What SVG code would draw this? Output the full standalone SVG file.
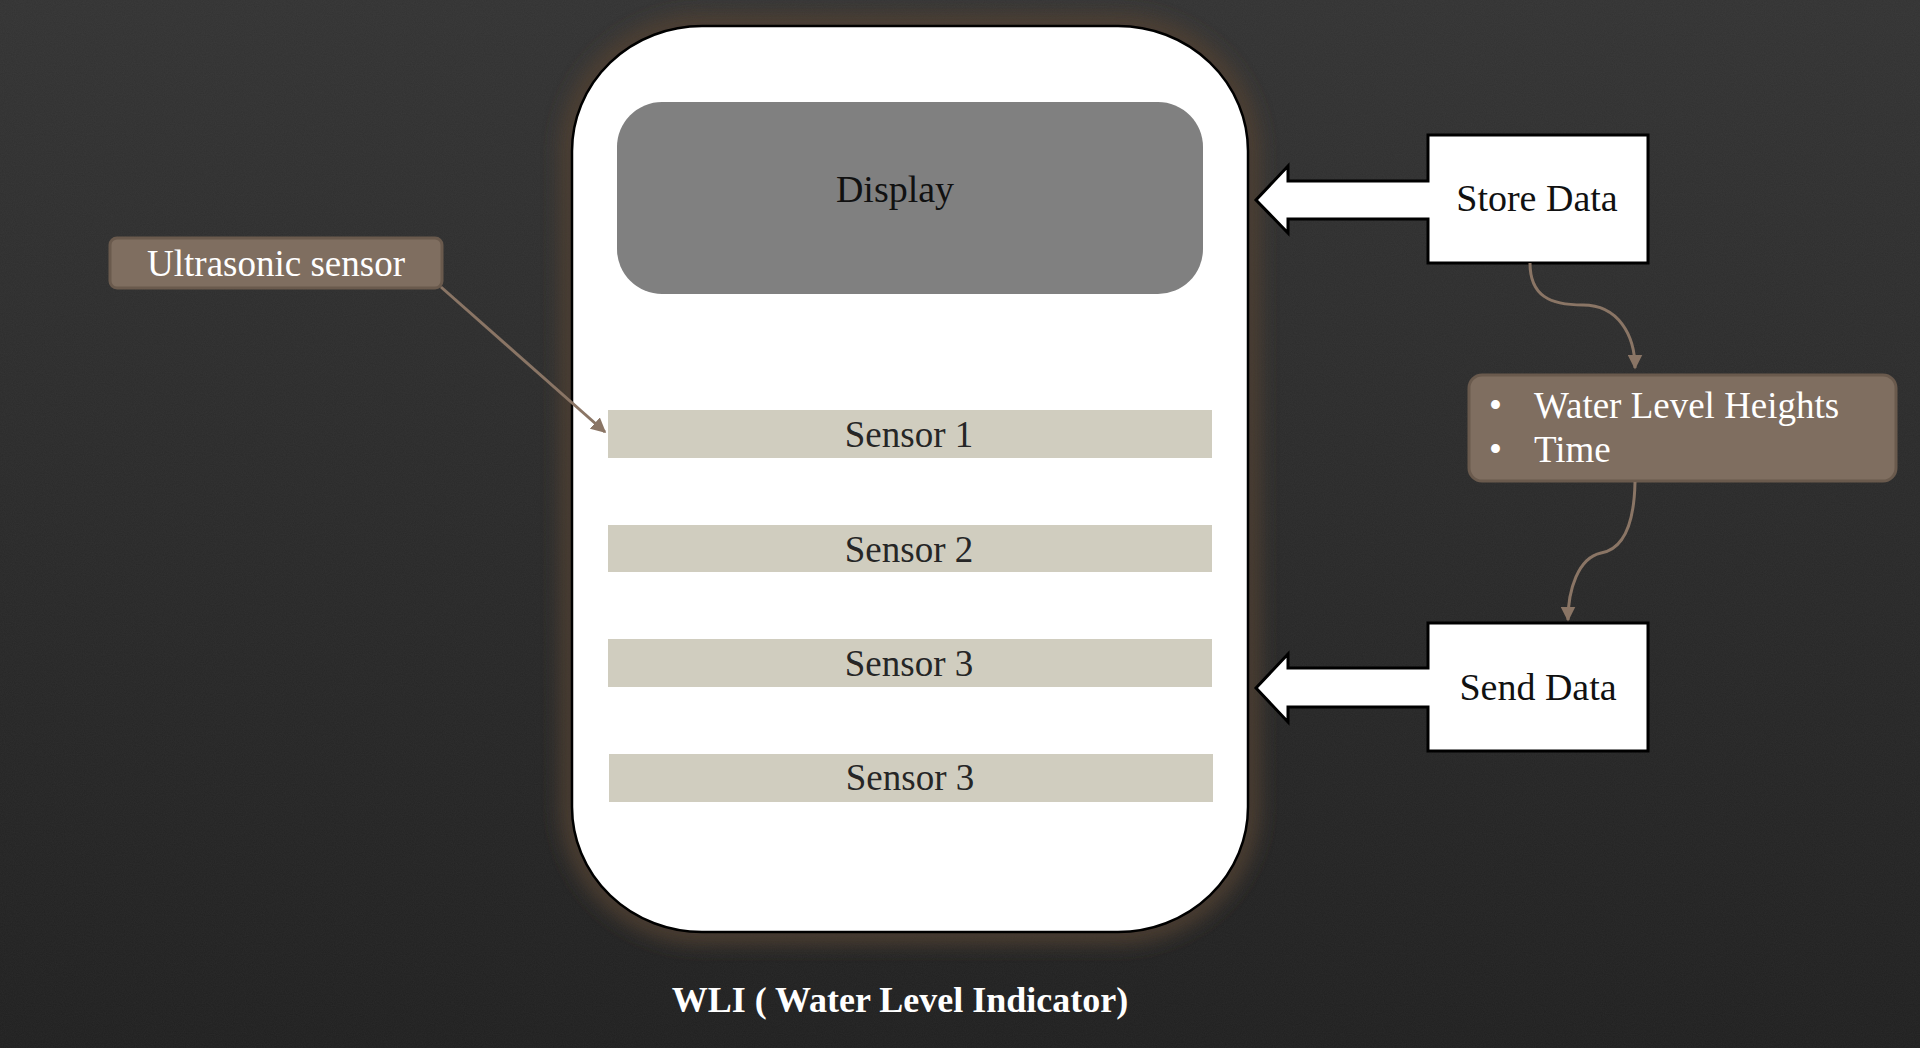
<svg xmlns="http://www.w3.org/2000/svg" width="1920" height="1048" viewBox="0 0 1920 1048">
  <defs>
    <linearGradient id="bg" x1="0" y1="0" x2="0" y2="1">
      <stop offset="0" stop-color="#333333"/>
      <stop offset="1" stop-color="#202020"/>
    </linearGradient>
    <filter id="noise" x="0" y="0" width="100%" height="100%">
      <feTurbulence type="fractalNoise" baseFrequency="0.9" numOctaves="2" seed="3" result="n"/>
      <feColorMatrix type="matrix" values="0 0 0 0 0.5  0 0 0 0 0.5  0 0 0 0 0.5  0 0 0 0.06 0"/>
    </filter>
    <filter id="glow" x="-20%" y="-20%" width="140%" height="140%">
      <feGaussianBlur stdDeviation="10"/>
    </filter>
    <marker id="ah" viewBox="0 0 10 10" refX="9" refY="5" markerWidth="5" markerHeight="5" orient="auto" markerUnits="strokeWidth">
      <path d="M0,0 L10,5 L0,10 Z" fill="#8a7565"/>
    </marker>
    <style>
      .serif { font-family: "Liberation Serif", "Times New Roman", serif; }
      .bar { fill: #d0cdbf; }
      .bartxt { font-size: 37px; fill: #262626; text-anchor: middle; }
      .callout { fill: #ffffff; stroke: #000000; stroke-width: 3; stroke-linejoin: miter; }
      .calltxt { font-size: 38px; fill: #111111; text-anchor: middle; }
      .brown { fill: #7f6e60; stroke: #6a5a4d; stroke-width: 3; }
      .wtxt { fill: #ffffff; font-size: 37px; }
      .conn { fill: none; stroke: #8a7565; stroke-width: 3; }
    </style>
  </defs>

  <rect width="1920" height="1048" fill="url(#bg)"/>
  <rect width="1920" height="1048" filter="url(#noise)"/>

  <g id="wli-body">
    <rect x="572" y="26" width="676" height="906" rx="130" ry="125" fill="none" stroke="#4f3f32" stroke-width="22" filter="url(#glow)"/>
    <rect x="572" y="26" width="676" height="906" rx="130" ry="125" fill="#ffffff" stroke="#000000" stroke-width="2.5"/>
  </g>

  <g id="display">
    <rect x="617" y="102" width="586" height="192" rx="45" ry="45" fill="#808080"/>
    <text class="serif calltxt" x="895" y="202">Display</text>
  </g>

  <g id="sensor1">
    <rect class="bar" x="608" y="410" width="604" height="48"/>
    <text class="serif bartxt" x="909" y="447">Sensor 1</text>
  </g>
  <g id="sensor2">
    <rect class="bar" x="608" y="525" width="604" height="47"/>
    <text class="serif bartxt" x="909" y="562">Sensor 2</text>
  </g>
  <g id="sensor3">
    <rect class="bar" x="608" y="639" width="604" height="48"/>
    <text class="serif bartxt" x="909" y="676">Sensor 3</text>
  </g>
  <g id="sensor3b">
    <rect class="bar" x="609" y="754" width="604" height="48"/>
    <text class="serif bartxt" x="910" y="790">Sensor 3</text>
  </g>

  <g id="ultrasonic">
    <rect class="brown" x="110" y="238" width="332" height="50" rx="7" ry="7"/>
    <text class="serif wtxt" x="276" y="276" text-anchor="middle" font-size="38">Ultrasonic sensor</text>
  </g>

  <g id="store-data">
    <path class="callout" d="M1428,135 H1648 V263 H1428 V219 H1288 V233 L1256,200 L1288,166 V181 H1428 Z"/>
    <text class="serif calltxt" x="1537" y="211">Store Data</text>
  </g>

  <g id="send-data">
    <path class="callout" d="M1428,623 H1648 V751 H1428 V707 H1288 V722 L1256,688 L1288,654 V668 H1428 Z"/>
    <text class="serif calltxt" x="1538" y="700">Send Data</text>
  </g>

  <g id="data-items">
    <rect class="brown" x="1469" y="375" width="427" height="106" rx="13" ry="13"/>
    <text class="serif wtxt" x="1489" y="418">•</text>
    <text class="serif wtxt" x="1534" y="418">Water Level Heights</text>
    <text class="serif wtxt" x="1489" y="462">•</text>
    <text class="serif wtxt" x="1534" y="462">Time</text>
  </g>

  <g id="title">
    <text class="serif" x="900" y="1012" text-anchor="middle" font-size="36" font-weight="bold" fill="#ffffff">WLI ( Water Level Indicator)</text>
  </g>

  <g id="connectors">
    <path class="conn" d="M441,287 L605,432" marker-end="url(#ah)"/>
    <path class="conn" d="M1530,263 C1530,296 1550,305 1583,305 C1618,305 1635,335 1635,368" marker-end="url(#ah)"/>
    <path class="conn" d="M1635,482 C1634,535 1618,550 1601,553 C1578,558 1568,590 1568,620" marker-end="url(#ah)"/>
  </g>
</svg>
